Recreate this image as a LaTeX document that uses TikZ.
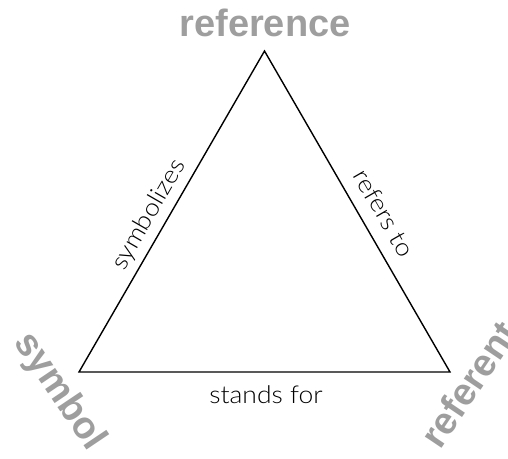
\documentclass[tikz,border=0pt]{standalone}
\usepackage{fontspec}
\setmainfont{Liberation Sans}
\newfontfamily\edgefont[FakeStretch=1.08]{Lato Light}
\definecolor{vgray}{RGB}{158,158,158}
\begin{document}
\begin{tikzpicture}[x=1pt,y=-1pt,
  vlabel/.style={font=\fontsize{38}{40}\selectfont\bfseries, text=vgray, inner sep=0},
  elabel/.style={font=\edgefont\fontsize{24.5}{26}\selectfont, inner sep=0},
  side/.style={line width=1.4pt, line join=miter}]
\useasboundingbox (0,0) rectangle (508,458);
\coordinate (sym) at (79,372);
\coordinate (ref) at (264.5,51);
\coordinate (rft) at (450,372);
\coordinate (mid) at (266,372);
\draw[side] (sym) -- node[elabel, sloped, pos=.461, above=6pt] (l1) {symbolizes} (ref)
  -- node[elabel, sloped, pos=.54, above=13pt] (l2) {refers to} (rft) -- cycle;
\node[elabel, below=13pt] (l3) at (mid) {stands for};
\node[vlabel, anchor=base] (tref) at (265,36) {reference};
\node[vlabel, rotate=-56] (tsym) at (59,392) {symbol};
\node[vlabel, rotate=56] (trft) at (469,384) {referent};
\end{tikzpicture}
\end{document}
